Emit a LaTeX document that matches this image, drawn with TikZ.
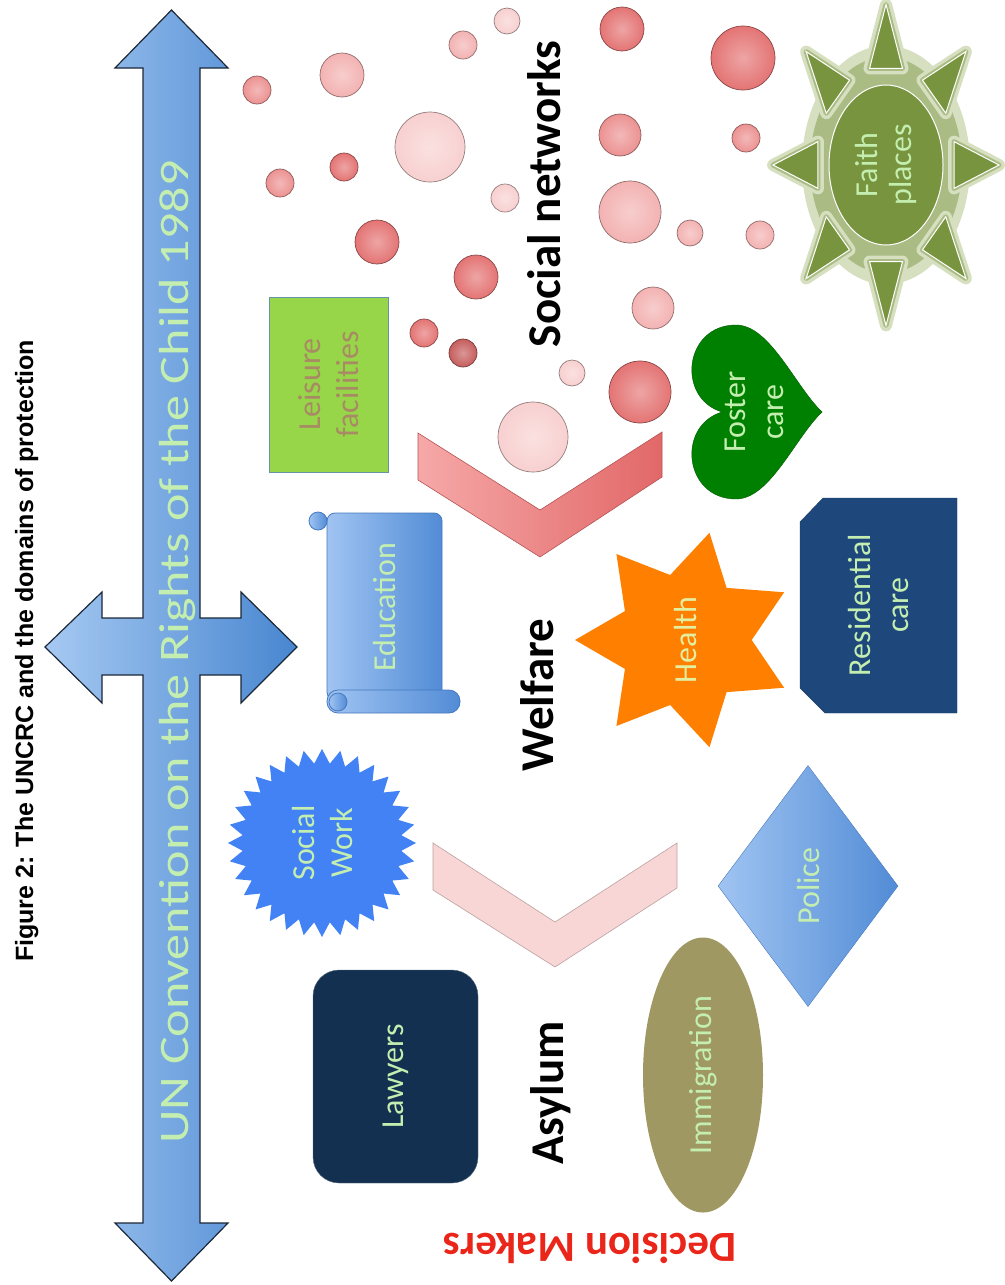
\documentclass[tikz,border=0pt]{standalone}
\usepackage{fontspec}
\setmainfont{Carlito}
\newfontfamily\titlefont[FakeStretch=1.24]{Carlito}
\newfontfamily\capfont{Liberation Sans}
\usetikzlibrary{positioning}
\usetikzlibrary{shapes}

\definecolor{labelGreen}{RGB}{196,238,176}
\definecolor{arrowLight}{RGB}{166,201,242}
\definecolor{arrowDark}{RGB}{72,134,208}
\definecolor{arrowLine}{RGB}{28,40,56}
\definecolor{bubV}{RGB}{248,208,208}
\definecolor{bubL}{RGB}{243,178,178}
\definecolor{bubM}{RGB}{236,146,146}
\definecolor{bubD}{RGB}{228,116,116}
\definecolor{bubR}{RGB}{198,94,94}
\definecolor{leisureGreen}{RGB}{150,214,72}
\definecolor{leisureEdge}{RGB}{104,146,170}
\definecolor{leisureText}{RGB}{168,138,100}
\definecolor{eduLight}{RGB}{160,196,242}
\definecolor{eduDark}{RGB}{82,140,214}
\definecolor{eduEdge}{RGB}{70,120,190}
\definecolor{workBlue}{RGB}{66,130,244}
\definecolor{lawyerNavy}{RGB}{20,48,80}
\definecolor{immiOlive}{RGB}{160,152,98}
\definecolor{healthOrange}{RGB}{255,128,0}
\definecolor{healthText}{RGB}{228,238,160}
\definecolor{resiBlue}{RGB}{30,72,124}
\definecolor{fosterGreen}{RGB}{0,128,0}
\definecolor{sunGreen}{RGB}{120,148,62}
\definecolor{glowSoft}{RGB}{214,224,192}
\definecolor{glowMid}{RGB}{170,188,132}
\definecolor{chevRedA}{RGB}{246,168,168}
\definecolor{chevRedB}{RGB}{226,104,104}
\definecolor{chevPink}{RGB}{249,214,214}
\definecolor{makersRed}{RGB}{234,38,26}

\tikzset{
        % Text written on the shapes
        box_text/.style={rotate=90, align=center, inner sep=0pt, text=labelGreen, font=\fontsize{32}{38}\selectfont},
        % Black names of the domains
        domain_word/.style={rotate=90, anchor=base, font=\bfseries\fontsize{47}{47}\selectfont},
        % Bubbles of the social networks
        bubble/.style={circle, inner sep=0pt, draw=#1!60!black, line width=0.7pt, inner color=#1!65!white, outer color=#1},
        % The big cross arrow
        arrow_body/.style={left color=arrowLight, right color=arrowDark, draw=arrowLine, line width=1.2pt},
        % Chevrons
        chevron_red/.style={left color=chevRedA, right color=chevRedB, draw=chevRedB!80!black, line width=0.6pt},
        chevron_pink/.style={fill=chevPink, draw=chevPink!75!black, line width=0.6pt},
        % Parts of the scroll
        scroll_part/.style={left color=eduLight, right color=eduDark, draw=eduEdge, line width=0.8pt},
        % Sun rays
        sun_ray/.style={fill=sunGreen, draw=white, line width=1pt}
}

\begin{document}
\begin{tikzpicture}[x=1pt, y=-1pt]
    \useasboundingbox (0,0) rectangle (1004,1285);

    % caption
    \node[rotate=90, anchor=base, font=\capfont\bfseries\fontsize{25}{25}\selectfont] (caption) at (33,651) {Figure 2: The UNCRC and the domains of protection};

    % cross arrow
    \draw[arrow_body] (171.5,10) -- (228,68) -- (200,68) -- (200,618) -- (241,618) -- (241,592) -- (297,647)
        -- (241,703) -- (241,675) -- (200,675) -- (200,1223) -- (228,1223) -- (171.5,1281) -- (115,1223)
        -- (143,1223) -- (143,675) -- (102,675) -- (102,703) -- (45,647) -- (102,592) -- (102,618)
        -- (143,618) -- (143,68) -- (115,68) -- cycle;
    \node[rotate=90, anchor=base, text=labelGreen, font=\titlefont\fontsize{42}{42}\selectfont] (uncrc) at (188,652) {UN Convention on the Rights of the Child 1989};

    % bubbles
    \foreach \bx/\by/\bd/\bc [count=\i] in {257/90/28/bubM, 342/75/44/bubL, 463/45/28/bubL, 507/21/26/bubV,
        430/147/70/bubV, 280/183/28/bubM, 344/167/28/bubD, 505/198/28/bubV, 377/242/44/bubD, 476/277/44/bubD,
        622/29/44/bubD, 620/135/42/bubM, 630/212/62/bubL, 690/233/26/bubL, 653/308/42/bubL, 424/333/28/bubD,
        463/353/28/bubR, 572/373/26/bubV, 640/392/62/bubD, 533/437/70/bubV, 743/58/64/bubD, 746/138/28/bubM,
        760/235/28/bubL}
        \node[bubble=\bc, minimum size=\bd] (bubble\i) at (\bx,\by) {};

    % chevrons
    \draw[chevron_red] (418,433) -- (540,510) -- (662,432) -- (662,477) -- (540,557) -- (418,480) -- cycle;
    \draw[chevron_pink] (433,843) -- (555,922) -- (677,843) -- (677,888) -- (555,967) -- (433,890) -- cycle;

    % domain names
    \node[domain_word] (social) at (560,194) {Social networks};
    \node[domain_word] (welfare) at (553,695) {Welfare};
    \node[domain_word] (asylum) at (563,1093) {Asylum};
    \node[rotate=180, anchor=base, text=makersRed, font=\bfseries\fontsize{43}{43}\selectfont] (makers) at (590,1233) {Decision Makers};

    % leisure
    \node[box_text, rectangle, minimum width=175, minimum height=119, fill=leisureGreen, draw=leisureEdge, text=leisureText] (leisure) at (328.5,384.5) {Leisure\\facilities};

    % education scroll
    \draw[scroll_part, rounded corners=8] (327,513) rectangle (442,700);
    \draw[scroll_part] (318,521) circle (9);
    \draw[scroll_part, rounded corners=11] (327,690) rectangle (460,713);
    \draw[scroll_part] (338,702) circle (9);
    \node[box_text] (education) at (385,607) {Education};

    % social work
    \node[box_text, star, star points=32, star point ratio=1.18, minimum size=188, fill=workBlue] (socialwork) at (322,843) {Social\\Work};

    % lawyers
    \node[box_text, rectangle, rounded corners=26, minimum width=213, minimum height=165, fill=lawyerNavy, draw=lawyerNavy!70!white] (lawyers) at (395.5,1076.5) {Lawyers};

    % health
    \node[box_text, star, star points=7, star point ratio=1.65, minimum size=220, fill=healthOrange, text=healthText] (health) at (685,640) {Health};

    % residential care
    \filldraw[fill=resiBlue, draw=resiBlue!80!black] (800,522) -- (823,498) -- (957,498) -- (957,713) -- (825,713) -- (800,688) -- cycle;
    \node[box_text] (residential) at (878,605) {Residential\\care};

    % foster care
    \filldraw[fill=fosterGreen, draw=fosterGreen!70!black] (822,412) .. controls (795,386) and (770,325) .. (736,325)
        .. controls (684,325) and (676,398) .. (722,412) .. controls (676,426) and (684,499) .. (736,499)
        .. controls (770,499) and (795,438) .. (822,412) -- cycle;
    \node[box_text] (foster) at (754,412) {Foster\\care};

    % police
    \node[box_text, diamond, minimum width=241, minimum height=180, left color=eduLight, right color=eduDark, draw=eduEdge] (police) at (808,886) {Police};

    % immigration
    \node[box_text, ellipse, minimum width=275, minimum height=120, fill=immiOlive] (immigration) at (703,1075) {Immigration};

    % faith places
    \begin{scope}[shift={(886,165)}, yscale=1.42]
        \fill[glowSoft] (0,0) circle (84);
        \fill[glowMid] (0,0) circle (76);
        \foreach \a in {0,45,...,315} {
            \filldraw[glowSoft, line width=12pt, line join=round] (\a:113) -- (\a+13.6:70) -- (\a-13.6:70) -- cycle;
        }
        \foreach \a in {0,45,...,315} {
            \filldraw[glowMid, line width=5pt, line join=round] (\a:113) -- (\a+13.6:70) -- (\a-13.6:70) -- cycle;
        }
        \foreach \a in {0,45,...,315} {
            \filldraw[sun_ray] (\a:113) -- (\a+13.6:70) -- (\a-13.6:70) -- cycle;
        }
    \end{scope}
    \node[box_text, ellipse, minimum width=160, minimum height=114, fill=sunGreen, draw=white, line width=1pt, font=\fontsize{32}{34}\selectfont] (faith) at (886,165) {Faith\\places};
\end{tikzpicture}
\end{document}
